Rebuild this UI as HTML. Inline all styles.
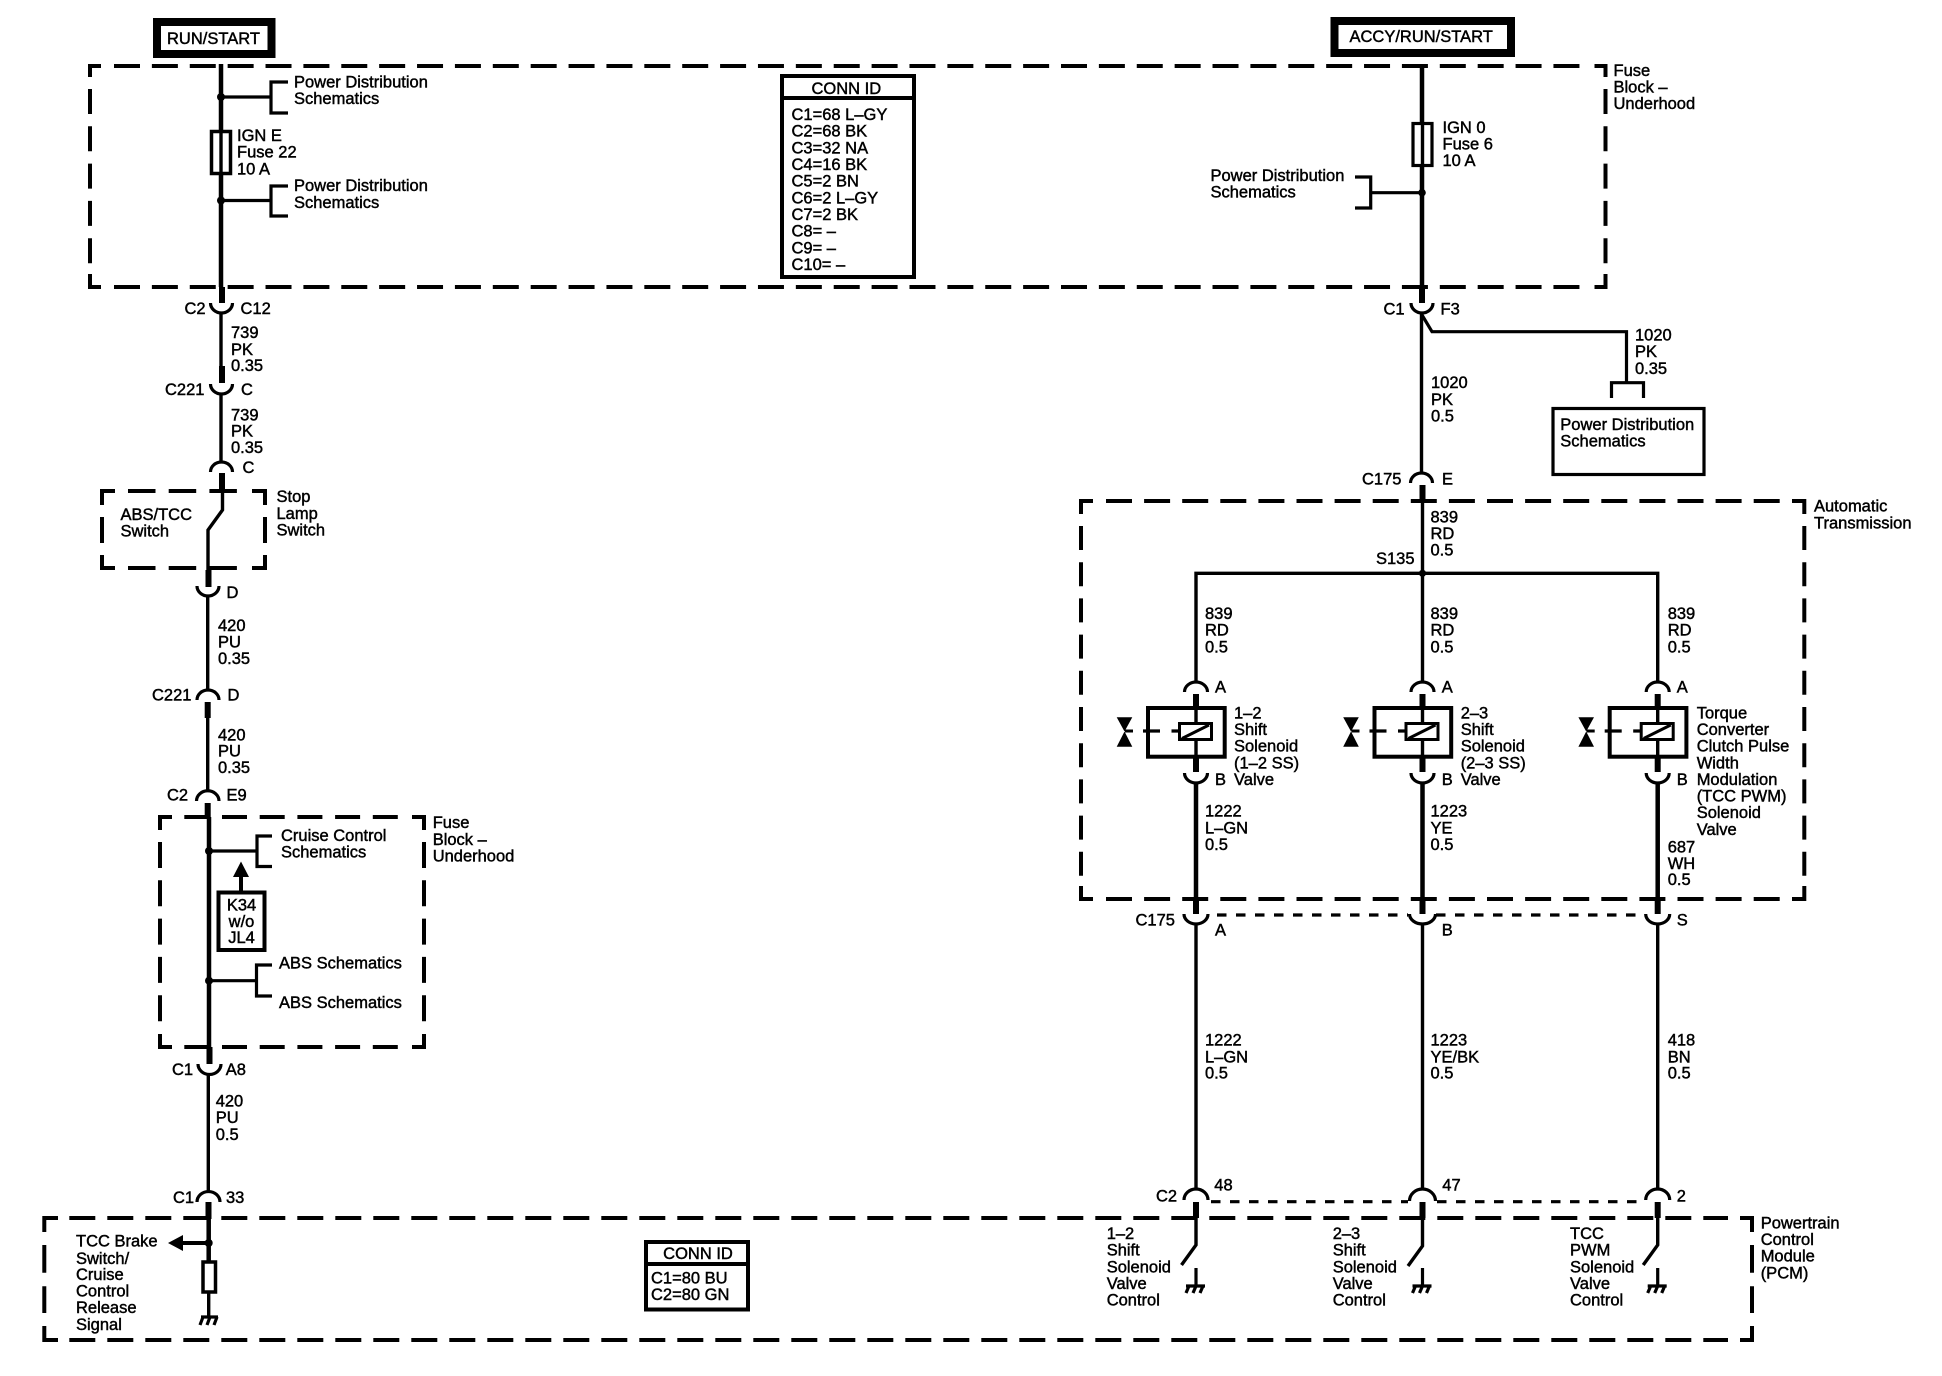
<!DOCTYPE html>
<html><head><meta charset="utf-8"><title>TCC wiring diagram</title>
<style>
html,body{margin:0;padding:0;background:#fff}
svg{display:block}
text{font-family:"Liberation Sans",sans-serif;font-size:16.5px;fill:#000;stroke:#000;stroke-width:.45}
.w{fill:none;stroke:#000;stroke-width:3.4}
.t{fill:none;stroke:#000;stroke-width:4.5}
.s{fill:none;stroke:#000;stroke-width:6}
.d{fill:none;stroke:#000;stroke-width:4}
.c{fill:none;stroke:#000;stroke-width:3.2}
.b{fill:none;stroke:#000;stroke-width:3.2}
</style></head><body>
<svg xmlns="http://www.w3.org/2000/svg" width="1942" height="1376" viewBox="0 0 1942 1376">
<rect width="1942" height="1376" fill="#fff"/>

<!-- power boxes -->
<rect x="157" y="22" width="114.500" height="32" fill="#fff" stroke="#000" stroke-width="8"/>
<text x="167" y="44">RUN/START</text>
<rect x="1334.500" y="21" width="176.500" height="32" fill="#fff" stroke="#000" stroke-width="8"/>
<text x="1349.500" y="42">ACCY/RUN/START</text>

<!-- Fuse block top -->
<path class="d" d="M90 77V66H101M1594.500 66H1605.500V77M90 274V287H101M1594.500 287H1605.500V274"/>
<path class="d" stroke-dasharray="26 11.880" d="M114 66H1587M114 287H1587"/>
<path class="d" stroke-dasharray="25 12.300" d="M90 89V264M1605.500 89V264"/>
<text x="1613.500" y="76">Fuse</text><text x="1613.500" y="92.500">Block –</text><text x="1613.500" y="109">Underhood</text>

<!-- CONN ID top -->
<rect x="782" y="76" width="132" height="201" fill="#fff" stroke="#000" stroke-width="4"/>
<path d="M782 98H914" stroke="#000" stroke-width="4"/>
<text x="811.500" y="94">CONN ID</text>
<text x="791.500" y="120">C1=68 L–GY</text>
<text x="791.500" y="136.700">C2=68 BK</text>
<text x="791.500" y="153.300">C3=32 NA</text>
<text x="791.500" y="170">C4=16 BK</text>
<text x="791.500" y="186.700">C5=2 BN</text>
<text x="791.500" y="203.300">C6=2 L–GY</text>
<text x="791.500" y="220">C7=2 BK</text>
<text x="791.500" y="236.700">C8= –</text>
<text x="791.500" y="253.300">C9= –</text>
<text x="791.500" y="270">C10= –</text>

<!-- left chain upper -->
<path class="t" d="M221 64V287"/>
<rect x="211.500" y="131.500" width="19" height="42" fill="#fff" stroke="#000" stroke-width="3.500"/>
<path class="w" d="M221 131V174"/>
<circle cx="221" cy="97" r="4"/><circle cx="221" cy="200.500" r="4"/>
<path class="b" d="M221 97H271M288 82H271V113H288M221 200.500H271M288 186H271V216H288"/>
<text x="294" y="87.500">Power Distribution</text><text x="294" y="104">Schematics</text>
<text x="294" y="191">Power Distribution</text><text x="294" y="208">Schematics</text>
<text x="237" y="141">IGN E</text><text x="237" y="157.500">Fuse 22</text><text x="237" y="174.500">10 A</text>

<path class="s" d="M222 287V303"/>
<path class="c" d="M210.500 303A11 10 0 0 0 232.500 303"/>
<text x="184.500" y="314">C2</text><text x="240.500" y="314">C12</text>
<path class="w" d="M221 313V366"/>
<path class="s" d="M222 366V383"/>
<text x="231" y="338">739</text><text x="231" y="355">PK</text><text x="231" y="371">0.35</text>
<path class="c" d="M210.500 384A11 10 0 0 0 232.500 384"/>
<text x="165" y="395">C221</text><text x="241" y="395">C</text>
<path class="w" d="M221 394V462"/>
<text x="231" y="420.700">739</text><text x="231" y="436.700">PK</text><text x="231" y="453">0.35</text>
<path class="c" d="M210.500 472A11 10 0 0 1 232.500 472"/>
<text x="242.500" y="473">C</text>
<path class="s" d="M222 473V493"/>

<!-- stop lamp switch -->
<path class="d" d="M102 505V491H115M252 491H265V505M102 555V568H115M252 568H265V555"/>
<path class="d" stroke-dasharray="27.500 13.200" d="M128 491H240M128 568H240"/>
<path class="d" d="M102 517V543M265 517V543"/>
<path class="w" stroke-width="4" d="M222.500 490V510L208 530V572"/>
<text x="120.500" y="520">ABS/TCC</text><text x="120.500" y="536.700">Switch</text>
<text x="276.500" y="502">Stop</text><text x="276.500" y="519">Lamp</text><text x="276.500" y="535.700">Switch</text>
<path class="s" d="M208.500 570V587"/>
<path class="c" d="M197 586A11 10 0 0 0 219 586"/>
<text x="226.500" y="598">D</text>

<path class="w" d="M207.700 596V690"/>
<text x="218" y="631">420</text><text x="218" y="647.700">PU</text><text x="218" y="664">0.35</text>
<path class="c" d="M197 700A11 10 0 0 1 219 700"/>
<text x="152" y="700.500">C221</text><text x="227.500" y="700.500">D</text>
<path class="s" d="M207.700 702V718"/>
<path class="w" d="M207.700 717V791"/>
<text x="218" y="740.700">420</text><text x="218" y="756.700">PU</text><text x="218" y="773">0.35</text>
<path class="c" d="M196.500 801A11 10 0 0 1 219 801"/>
<text x="167" y="800.500">C2</text><text x="226.500" y="800.500">E9</text>
<path class="s" d="M207.700 803V818"/>

<!-- fuse block 2 -->
<path class="d" d="M160 830V817H172M412 817H424V830M160 1034V1047H172M412 1047H424V1034"/>
<path class="d" stroke-dasharray="25 12.700" d="M184.300 817H400M184.300 1047H400"/>
<path class="d" stroke-dasharray="26 12.300" d="M160 842V1022M424 842V1022"/>
<text x="432.700" y="828">Fuse</text><text x="432.700" y="845">Block –</text><text x="432.700" y="861.700">Underhood</text>
<path class="t" d="M209 817V1047"/>
<circle cx="209" cy="851" r="4"/><circle cx="209" cy="980.700" r="4"/>
<path class="b" d="M209 851H257M272 836H257V866.500H272M209 980.700H256.500M272 965H256.500V996H272"/>
<text x="281" y="841">Cruise Control</text><text x="281" y="857.700">Schematics</text>
<text x="279" y="968.300">ABS Schematics</text><text x="279" y="1008">ABS Schematics</text>
<polygon points="241,861.500 233,877 249,877"/>
<path class="d" d="M241 876V891"/>
<rect x="218.500" y="892.500" width="46" height="57.500" fill="#fff" stroke="#000" stroke-width="4"/>
<text x="241.500" y="910.700" text-anchor="middle">K34</text><text x="241.500" y="927" text-anchor="middle">w/o</text><text x="241.500" y="943" text-anchor="middle">JL4</text>
<path class="s" d="M209.500 1047V1064"/>
<path class="c" d="M198 1064A11 10 0 0 0 221 1064"/>
<text x="172" y="1075">C1</text><text x="225.700" y="1075">A8</text>
<path class="w" d="M208.300 1074V1192"/>
<text x="215.700" y="1106.700">420</text><text x="215.700" y="1123">PU</text><text x="215.700" y="1140">0.5</text>
<path class="c" d="M197 1202A11 10 0 0 1 220 1202"/>
<text x="173" y="1203">C1</text><text x="226" y="1203">33</text>
<path class="s" d="M208.500 1202V1219"/>

<!-- PCM box -->
<path class="d" d="M44.300 1232V1218H58M1740 1218H1752V1232M44.300 1326V1340H58M1740 1340H1752V1326"/>
<path class="d" stroke-dasharray="26 12" d="M69.300 1218H1728M69.300 1340H1728"/>
<path class="d" stroke-dasharray="27.700 13.500" d="M44.300 1245V1313M1752 1245V1313"/>
<text x="1760.700" y="1228.300">Powertrain</text><text x="1760.700" y="1245">Control</text><text x="1760.700" y="1261.700">Module</text><text x="1760.700" y="1278.300">(PCM)</text>

<path class="t" d="M208.700 1218V1262"/>
<circle cx="208.700" cy="1243" r="4"/>
<polygon points="168,1243 183,1235 183,1251"/>
<path class="d" d="M182 1243H208"/>
<rect x="203" y="1262" width="12.500" height="30" fill="#fff" stroke="#000" stroke-width="3.500"/>
<path class="w" d="M208.700 1293V1317"/>
<path class="b" d="M201 1317H218M203 1317L200 1325M210 1317L207 1325M217 1317L214 1325"/>
<text x="76" y="1246.700">TCC Brake</text><text x="76" y="1264">Switch/</text><text x="76" y="1280">Cruise</text><text x="76" y="1296.700">Control</text><text x="76" y="1313">Release</text><text x="76" y="1330">Signal</text>

<rect x="646" y="1242" width="102" height="67.500" fill="#fff" stroke="#000" stroke-width="4"/>
<path d="M646 1264H748" stroke="#000" stroke-width="4"/>
<text x="698" y="1259" text-anchor="middle">CONN ID</text>
<text x="651" y="1283.300">C1=80 BU</text><text x="651" y="1300">C2=80 GN</text>

<!-- right top -->
<path class="t" d="M1422 64V287"/>
<rect x="1413" y="123.500" width="19" height="42" fill="#fff" stroke="#000" stroke-width="3.200"/>
<path class="w" d="M1422.500 122V167"/>
<circle cx="1422" cy="192.700" r="3.800"/>
<path class="b" d="M1422 192.700H1370.700M1355 177H1370.700V208H1355"/>
<text x="1442.500" y="133">IGN 0</text><text x="1442.500" y="149.500">Fuse 6</text><text x="1442.500" y="166">10 A</text>
<text x="1210.500" y="181">Power Distribution</text><text x="1210.500" y="197.700">Schematics</text>
<path class="s" d="M1422 287V303"/>
<path class="c" d="M1411 303A11 10 0 0 0 1433 303"/>
<text x="1383.500" y="314.300">C1</text><text x="1440.500" y="314.300">F3</text>
<path class="b" stroke-width="3.400" d="M1422 315L1432 331.700H1626.500V382.700M1611.500 398V382.700H1643.500V398"/>
<path class="w" d="M1421.500 313V473"/>
<text x="1635" y="340.700">1020</text><text x="1635" y="357">PK</text><text x="1635" y="374">0.35</text>
<text x="1431" y="388">1020</text><text x="1431" y="405">PK</text><text x="1431" y="421.700">0.5</text>
<rect x="1553" y="408.500" width="151" height="66" fill="#fff" stroke="#000" stroke-width="3.200"/>
<text x="1560.300" y="430">Power Distribution</text><text x="1560.300" y="446.700">Schematics</text>
<path class="c" d="M1410.500 483A11 10 0 0 1 1432.500 483"/>
<text x="1362" y="484.300">C175</text><text x="1442" y="484.300">E</text>
<path class="s" d="M1422.500 485V503"/>

<!-- automatic transmission -->
<path class="d" d="M1081 514V501H1093M1792 501H1804.300V514M1081 886V899H1093M1792 899H1804.300V886"/>
<path class="d" stroke-dasharray="26 12.100" d="M1106 501H1780M1106 899H1780"/>
<path class="d" stroke-dasharray="24 12.200" d="M1081 526V876M1804.300 526V876"/>
<text x="1814" y="511.700">Automatic</text><text x="1814" y="528.300">Transmission</text>

<path class="w" d="M1422.500 502V682M1196 682V573.300H1657.700V682"/>
<circle cx="1422.500" cy="573.300" r="3.600"/>
<text x="1430.500" y="522.300">839</text><text x="1430.500" y="539">RD</text><text x="1430.500" y="555.700">0.5</text>
<text x="1376" y="564">S135</text>
<text x="1205" y="619">839</text><text x="1205" y="635.700">RD</text><text x="1205" y="652.300">0.5</text>
<text x="1430.500" y="619">839</text><text x="1430.500" y="635.700">RD</text><text x="1430.500" y="652.300">0.5</text>
<text x="1667.700" y="619">839</text><text x="1667.700" y="635.700">RD</text><text x="1667.700" y="652.300">0.5</text>

<!-- solenoid columns -->
<g transform="translate(1196 0)">
<path class="c" d="M-11.500 692A11.500 10 0 0 1 11.500 692"/>
<path class="s" d="M0 694V707M0 758V772"/>
<rect x="-48" y="708" width="76.700" height="48.700" fill="none" stroke="#000" stroke-width="4"/>
<path class="w" d="M0 707V772"/>
<rect x="-16.500" y="723.500" width="32" height="16" fill="#fff" stroke="#000" stroke-width="3"/>
<path stroke="#000" stroke-width="3" d="M-14 738.500L13 725"/>
<path d="M-53 731H-36M-24.500 731H-17" stroke="#000" stroke-width="3.200"/>
<polygon points="-79.300,717.300 -63.700,717.300 -71.500,731.500 -63.700,746.700 -79.300,746.700 -71.500,731.500"/>
<path d="M-71 731H-63" stroke="#000" stroke-width="3"/>
<path class="c" d="M-11.500 773A11.500 10 0 0 0 11.500 773"/>
<path class="t" d="M0 784V897"/>
<path class="s" d="M0 897V914"/>
<path class="c" d="M-12 914A12 10 0 0 0 12 914"/>
<path class="w" d="M0 924V1189"/>
<path class="c" d="M-12 1200A12 11 0 0 1 12 1200"/>
<path class="s" d="M0 1202V1218"/>
<path class="w" d="M0 1217V1245L-14.500 1265"/>
<path class="b" d="M0 1268V1286M-10 1286H9M-7 1286L-10 1293M0 1286L-3 1293M7 1286L4 1293"/>
</g>
<g transform="translate(1422.500 0)">
<path class="c" d="M-11.500 692A11.500 10 0 0 1 11.500 692"/>
<path class="s" d="M0 694V707M0 758V772"/>
<rect x="-48" y="708" width="76.700" height="48.700" fill="none" stroke="#000" stroke-width="4"/>
<path class="w" d="M0 707V772"/>
<rect x="-16.500" y="723.500" width="32" height="16" fill="#fff" stroke="#000" stroke-width="3"/>
<path stroke="#000" stroke-width="3" d="M-14 738.500L13 725"/>
<path d="M-53 731H-36M-24.500 731H-17" stroke="#000" stroke-width="3.200"/>
<polygon points="-79.300,717.300 -63.700,717.300 -71.500,731.500 -63.700,746.700 -79.300,746.700 -71.500,731.500"/>
<path d="M-71 731H-63" stroke="#000" stroke-width="3"/>
<path class="c" d="M-11.500 773A11.500 10 0 0 0 11.500 773"/>
<path class="t" d="M0 784V897"/>
<path class="s" d="M0 897V914"/>
<path class="c" d="M-13 914A13 10 0 0 0 13 914"/>
<path class="w" d="M0 924V1189"/>
<path class="c" d="M-13 1201A13 12 0 0 1 13 1201"/>
<path class="s" d="M0 1202V1218"/>
<path class="w" d="M0 1217V1246L-14.500 1266"/>
<path class="b" d="M0 1268V1286M-10 1286H9M-7 1286L-10 1293M0 1286L-3 1293M7 1286L4 1293"/>
</g>
<g transform="translate(1657.700 0)">
<path class="c" d="M-11.500 692A11.500 10 0 0 1 11.500 692"/>
<path class="s" d="M0 694V707M0 758V772"/>
<rect x="-48" y="708" width="76.700" height="48.700" fill="none" stroke="#000" stroke-width="4"/>
<path class="w" d="M0 707V772"/>
<rect x="-16.500" y="723.500" width="32" height="16" fill="#fff" stroke="#000" stroke-width="3"/>
<path stroke="#000" stroke-width="3" d="M-14 738.500L13 725"/>
<path d="M-53 731H-36M-24.500 731H-17" stroke="#000" stroke-width="3.200"/>
<polygon points="-79.300,717.300 -63.700,717.300 -71.500,731.500 -63.700,746.700 -79.300,746.700 -71.500,731.500"/>
<path d="M-71 731H-63" stroke="#000" stroke-width="3"/>
<path class="c" d="M-11.500 773A11.500 10 0 0 0 11.500 773"/>
<path class="t" d="M0 784V897"/>
<path class="s" d="M0 897V914"/>
<path class="c" d="M-12 914A12 10 0 0 0 12 914"/>
<path class="w" d="M0 924V1189"/>
<path class="c" d="M-12 1200A12 11 0 0 1 12 1200"/>
<path class="s" d="M0 1202V1218"/>
<path class="w" d="M0 1217V1245L-14.500 1265"/>
<path class="b" d="M0 1268V1286M-10 1286H9M-7 1286L-10 1293M0 1286L-3 1293M7 1286L4 1293"/>
</g>

<!-- solenoid labels -->
<text x="1234" y="718.300">1–2</text><text x="1234" y="735">Shift</text><text x="1234" y="751.700">Solenoid</text><text x="1234" y="768.300">(1–2 SS)</text><text x="1234" y="785">Valve</text>
<text x="1460.700" y="718.300">2–3</text><text x="1460.700" y="735">Shift</text><text x="1460.700" y="751.700">Solenoid</text><text x="1460.700" y="768.300">(2–3 SS)</text><text x="1460.700" y="785">Valve</text>
<text x="1696.700" y="718.300">Torque</text><text x="1696.700" y="735">Converter</text><text x="1696.700" y="751.700">Clutch Pulse</text><text x="1696.700" y="768.300">Width</text><text x="1696.700" y="785">Modulation</text><text x="1696.700" y="801.700">(TCC PWM)</text><text x="1696.700" y="818">Solenoid</text><text x="1696.700" y="835">Valve</text>

<text x="1215" y="692.300">A</text><text x="1441.700" y="692.300">A</text><text x="1676.700" y="692.300">A</text>
<text x="1215" y="785">B</text><text x="1441.700" y="785">B</text><text x="1676.700" y="785">B</text>

<text x="1205" y="816.700">1222</text><text x="1205" y="833.300">L–GN</text><text x="1205" y="850">0.5</text>
<text x="1430.500" y="816.700">1223</text><text x="1430.500" y="833.300">YE</text><text x="1430.500" y="850">0.5</text>
<text x="1667.700" y="852.300">687</text><text x="1667.700" y="869">WH</text><text x="1667.700" y="885">0.5</text>

<!-- C175 row -->
<path class="c" stroke-dasharray="9.500 9.500" d="M1217 915H1408M1436 915H1636"/>
<text x="1135.500" y="925.700">C175</text><text x="1215" y="935.700">A</text><text x="1441.700" y="935.700">B</text><text x="1676.700" y="925.700">S</text>

<text x="1205" y="1045.700">1222</text><text x="1205" y="1062.300">L–GN</text><text x="1205" y="1078.300">0.5</text>
<text x="1430.500" y="1045.700">1223</text><text x="1430.500" y="1062.300">YE/BK</text><text x="1430.500" y="1078.300">0.5</text>
<text x="1667.700" y="1045.700">418</text><text x="1667.700" y="1062.300">BN</text><text x="1667.700" y="1078.300">0.5</text>

<!-- C2 row -->
<path class="c" stroke-dasharray="9.500 9.500" d="M1211 1201.700H1408M1437 1201.700H1640"/>
<text x="1156" y="1201.700">C2</text><text x="1214.300" y="1190.700">48</text><text x="1442.300" y="1190.700">47</text><text x="1676.700" y="1201.700">2</text>

<text x="1106.700" y="1239">1–2</text><text x="1106.700" y="1255.700">Shift</text><text x="1106.700" y="1272.300">Solenoid</text><text x="1106.700" y="1289">Valve</text><text x="1106.700" y="1305.700">Control</text>
<text x="1332.700" y="1239">2–3</text><text x="1332.700" y="1255.700">Shift</text><text x="1332.700" y="1272.300">Solenoid</text><text x="1332.700" y="1289">Valve</text><text x="1332.700" y="1305.700">Control</text>
<text x="1570" y="1239">TCC</text><text x="1570" y="1255.700">PWM</text><text x="1570" y="1272.300">Solenoid</text><text x="1570" y="1289">Valve</text><text x="1570" y="1305.700">Control</text>
</svg>
</body></html>
